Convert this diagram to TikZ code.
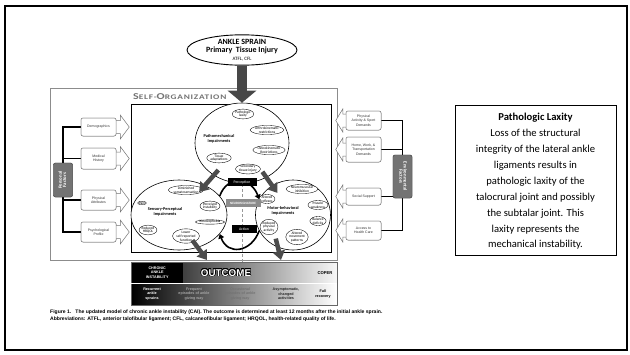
\documentclass[tikz,border=0pt]{standalone}
\usepackage{fontspec}
\setmainfont{Carlito}
\newfontfamily\arialf{Liberation Sans}
\usepackage{contour}
\contourlength{0.5pt}
\usetikzlibrary{shapes.geometric,arrows.meta,calc}
\newcommand\myfs[1]{\fontsize{#1}{#1}\selectfont}
\newcommand\rarrow[1]{\draw[hollow] ($(#1.east)+(-3,-6.5)$) -- ++(7,0) -- ++(0,-5.5) -- ++(9,12) -- ++(-9,12) -- ++(0,-5.5) -- ++(-7,0) -- cycle;}
\newcommand\larrow[1]{\draw[hollow] ($(#1.west)+(3,-6.5)$) -- ++(-6,0) -- ++(0,-5) -- ++(-7,11.5) -- ++(7,11.5) -- ++(0,-5) -- ++(6,0) -- cycle;}
\begin{document}
\begin{tikzpicture}[x=1pt,y=-1pt,
 subell/.style={ellipse, draw=black, line width=0.35pt, fill=white, inner sep=0pt, font=\fontsize{3.6}{3.9}\selectfont, align=center, text=black},
 bigell/.style={ellipse, draw=black, line width=0.6pt, fill=white, inner sep=0pt},
 ttl/.style={font=\bfseries\fontsize{4.3}{4.6}\selectfont, align=center, inner sep=0pt},
 facbox/.style={draw=black!50, line width=0.5pt, rounded corners=2pt, fill=white, minimum width=35pt, align=center, font=\arialf\fontsize{3.5}{4.4}\selectfont, text=black!80, inner sep=0.5pt},
 darkfac/.style={draw=black!70, fill=black!55, rounded corners=2pt, minimum width=19pt, inner sep=0pt, text=white, font=\bfseries\fontsize{4.8}{5.2}\selectfont, align=center},
 brk/.style={line width=1.4pt, black},
 hollow/.style={draw=black!55, line width=0.5pt, fill=white, line join=miter},
 fatarr/.style={draw=black!70, line width=4.5pt, -{Triangle[length=9pt,width=12pt]}},
 cyc/.style={line width=1.6pt, -{Triangle[length=4.5pt,width=6pt]}},
 minibox/.style={fill=black, text=white, font=\fontsize{3.8}{4}\selectfont, inner sep=1pt, minimum height=8pt},
 otxt/.style={font=\arialf\bfseries\fontsize{3.7}{4.5}\selectfont, align=center, inner sep=0pt}
]
\useasboundingbox (0,0) rectangle (630,354);
\fill[white] (0,0) rectangle (630,354);
\draw[line width=2pt] (5,6) rectangle (627,350);

% self-organization boxes
\node[draw=black!45, line width=1.3pt, minimum width=287pt, minimum height=172pt, anchor=north west, inner sep=0pt] (selforg) at (50,88) {};
\node[anchor=west, inner sep=0pt, text=black!55, font=\bfseries\addfontfeature{LetterSpace=8}] (sotitle) at (133,97) {\scalebox{1.33}[1]{\myfs{9}S\myfs{7}ELF-\myfs{9}O\myfs{7}RGANIZATION}};
\node[draw=black, line width=0.8pt, minimum width=200pt, minimum height=148pt, anchor=north west, inner sep=0pt] (inner) at (131,104) {};

% ankle sprain
\node[ellipse, draw=black, line width=0.9pt, fill=white, minimum width=110pt, minimum height=27pt, inner sep=0pt, align=center, font=\bfseries\fontsize{8}{7.8}\selectfont] (ankle) at (242,50) {ANKLE SPRAIN\\Primary\ \ Tissue Injury\\{\mdseries\myfs{5}ATFL, CFL}};

% big circles
\node[bigell, minimum width=94pt, minimum height=80pt] (pm) at (242,143) {};
\node[bigell, minimum width=96pt, minimum height=70pt] (sp) at (179,215) {};
\node[bigell, minimum width=75pt, minimum height=70pt] (mb) at (293,215) {};

\draw[line width=10pt, draw=black!72, -{Triangle[length=12pt,width=28pt]}] (ankle.south) -- (pm.north);

% pathomechanical
\node[subell] (pl) at (243,114) {Pathologic\\laxity};
\node[subell] (ar) at (267,130) {Arthrokinematic\\restrictions};
\node[ttl] (pmt) at (219,139) {Pathomechanical\\Impairments};
\node[subell] (os) at (269,150) {Osteokinematic\\Restrictions};
\node[subell] (ta) at (219,158) {Tissue\\adaptations};
\node[subell] (st) at (248,169) {Secondary\\tissue injury};

% sensory
\node[subell] (ds) at (186,190) {Diminished\\somatosensation};
\node[subell] (pn) at (142,203) {Pain};
\node[ttl] (spt) at (165,212) {Sensory-Perceptual\\Impairments};
\node[subell] (pi) at (210,206) {Perceived\\instability};
\node[subell] (kp) at (210,222) {Kinesiophobia};
\node[subell] (rh) at (148,230) {Reduced\\HRQOL};
\node[subell] (lf) at (186,236) {Lower\\self-reported\\function};

% motor
\node[subell] (arf) at (267,199) {Altered\\reflexes};
\node[subell] (ni) at (302,189) {Neuromuscular\\inhibition};
\node[ttl] (mbt) at (283,211) {Motor-behavioral\\Impairments};
\node[subell] (mw) at (318,205) {Muscle\\weakness};
\node[subell] (bd) at (318,221) {Balance\\deficits};
\node[subell] (rp) at (269,227) {Reduced\\physical\\activity};
\node[subell] (am) at (297,237) {Altered\\movement\\patterns};

% arrows between circles
\draw[fatarr, shorten <=-7pt, shorten >=-9pt] (pm) -- (sp);
\draw[fatarr, shorten <=-7pt, shorten >=-9pt] (pm) -- (mb);

% central column
\coordinate (dtop) at (242,184);
\coordinate (dbot) at (242,262);
\draw[black!40, line width=1pt, densely dashed] (dtop) -- (dbot);
\draw[cyc] (sp.25) to[out=70, in=110, looseness=1.5] (mb.155);
\draw[cyc] (mb.-155) to[out=-110, in=-70, looseness=1.5] (sp.-25);
\node[minibox, minimum width=29pt] (perc) at (242,182) {Perception};
\node[minibox, fill=black!45, minimum width=35pt, minimum height=7.5pt, font=\bfseries\fontsize{3.3}{3.5}\selectfont] (neuro) at (243,203) {NEUROSIGNATURE};
\node[minibox, minimum width=25pt] (act) at (244,229) {Action};

% outcome
\node[fill=black, minimum width=52pt, minimum height=21pt, anchor=north west, inner sep=0pt] (cai) at (131,262) {};
\node[otxt, text=white] at (cai.center) {CHRONIC\\ANKLE\\INSTABILITY};
\shade[left color=black!75, right color=black!3] (183,262) rectangle (337,283);
\shade[left color=black, right color=white] (131,283) rectangle (337,305);
\node[draw=black!60, line width=0.4pt, minimum width=206pt, minimum height=43pt, anchor=north west, inner sep=0pt] (outc) at (131,262) {};
\draw[white, line width=0.5pt] (131,283) -- (337,283);
\node[font=\arialf\bfseries\myfs{9.8}, inner sep=0pt] (outw) at (226,273) {\contour{black}{\textcolor{white}{OUTCOME}}};
\node[otxt, font=\arialf\bfseries\myfs{4.2}] (coper) at (325,273) {COPER};
\node[otxt, text=white] (o1) at (152,294) {Recurrent\\ankle\\sprains};
\node[otxt, text=black!35] (o2) at (194,294) {Frequent\\episodes of ankle\\giving way};
\node[otxt, text=black!55] (o3) at (240,294) {Occasional\\episodes of ankle\\giving way};
\node[otxt, text=black!85] (o4) at (286,294) {Asymptomatic,\\changed\\activities};
\node[otxt, text=black] (o5) at (323,294) {Full\\recovery};
\coordinate (oL) at (207,260);
\coordinate (oR) at (281,260);
\draw[fatarr, shorten <=-9pt] (sp.-60) -- (oL);
\draw[fatarr, shorten <=-9pt] (mb.-115) -- (oR);

% personal factors
\node[facbox, minimum height=18pt] (dem) at (98.5,127) {Demographics};
\node[facbox, minimum height=21pt] (med) at (98.5,158.5) {Medical\\History};
\node[facbox, minimum height=20pt] (phy) at (98.5,200) {Physical\\Attributes};
\node[facbox, minimum height=20pt] (psy) at (98.5,232) {Psychological\\Profile};
\node[darkfac, minimum height=34pt] (pf) at (63,180) {};
\draw[brk] (dem.west) -- (dem.west -| pf.center) -- (psy.west -| pf.center) -- (psy.west);
\draw[brk] (med.west) -- (med.west -| pf.center);
\draw[brk] (phy.west) -- (phy.west -| pf.center);
\node[darkfac, minimum height=34pt] at (63,180) {\rotatebox{90}{\begin{tabular}{@{}c@{}}Personal\\[-1pt]Factors\end{tabular}}};
\rarrow{dem}\rarrow{med}\rarrow{phy}\rarrow{psy}
\node[facbox, minimum height=18pt] at (dem) {Demographics};
\node[facbox, minimum height=21pt] at (med) {Medical\\History};
\node[facbox, minimum height=20pt] at (phy) {Physical\\Attributes};
\node[facbox, minimum height=20pt] at (psy) {Psychological\\Profile};

% environmental factors
\node[facbox, minimum height=19pt] (pa) at (363.5,120.5) {Physical\\Activity \& Sport\\Demands};
\node[facbox, minimum height=25pt] (hw) at (363.5,149.5) {Home, Work, \&\\Transportation\\Demands};
\node[facbox, minimum height=17pt] (ss) at (363.5,196.5) {Social Support};
\node[facbox, minimum height=19pt] (ah) at (363.5,230.5) {Access to\\Health Care};
\node[darkfac, minimum height=43pt] (env) at (402.5,176.5) {};
\draw[brk] (pa.east) -- (pa.east -| env.center) -- (ah.east -| env.center) -- (ah.east);
\draw[brk] (hw.east) -- (hw.east -| env.center);
\draw[brk] (ss.east) -- (ss.east -| env.center);
\node[darkfac, minimum height=43pt] at (env) {\rotatebox{-90}{\begin{tabular}{@{}c@{}}Environmental\\[-1pt]Factors\end{tabular}}};
\larrow{pa}\larrow{hw}\larrow{ss}\larrow{ah}
\node[facbox, minimum height=19pt] at (pa) {Physical\\Activity \& Sport\\Demands};
\node[facbox, minimum height=25pt] at (hw) {Home, Work, \&\\Transportation\\Demands};
\node[facbox, minimum height=17pt] at (ss) {Social Support};
\node[facbox, minimum height=19pt] at (ah) {Access to\\Health Care};

% caption
\node[anchor=north west, inner sep=0pt, align=left, font=\arialf\bfseries\fontsize{5.05}{6.6}\selectfont] (cap) at (50,310) {Figure 1.\ \ \ The updated model of chronic ankle instability (CAI). The outcome is determined at least 12 months after the initial ankle sprain.\\Abbreviations: ATFL, anterior talofibular ligament; CFL, calcaneofibular ligament; HRQOL, health-related quality of life.};

% right text box
\node[draw=black, line width=0.8pt, minimum width=161pt, minimum height=150pt, inner sep=0pt] (lax) at (535.5,180) {};
\node[inner sep=0pt, align=center, font=\fontsize{10.6}{15.9}\selectfont] (laxtxt) at (535.5,181.5) {\textbf{Pathologic Laxity}\\Loss of the structural\\integrity of the lateral ankle\\ligaments results in\\pathologic laxity of the\\talocrural joint and possibly\\the subtalar joint. This\\laxity represents the\\mechanical instability.};
\end{tikzpicture}
\end{document}
